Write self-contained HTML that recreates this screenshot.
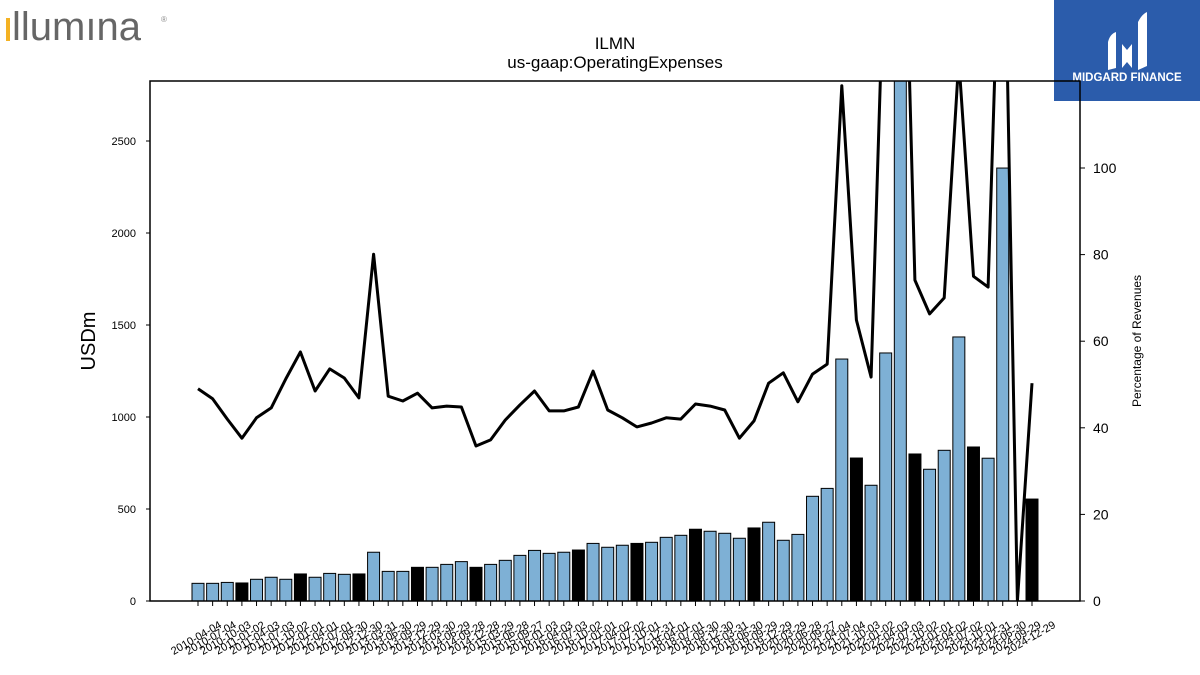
<!DOCTYPE html>
<html><head><meta charset="utf-8"><style>
html,body{margin:0;padding:0;background:#fff;width:1200px;height:675px;overflow:hidden}
svg{display:block;font-family:"Liberation Sans","DejaVu Sans",sans-serif}
</style></head><body>
<svg id="chart" width="1200" height="675" viewBox="0 0 1200 675">
<g>
<rect x="6" y="18" width="4" height="23" fill="#f4b223"/>
<text x="12" y="40" font-size="40" fill="#666" font-family="Liberation Sans, sans-serif">llumına</text>
<text x="161" y="22" font-size="8" fill="#888">®</text>
</g>
<g>
<rect x="1054" y="0" width="146" height="101" fill="#2b5cab"/>
<path d="M1108 70 L1108 42 Q1110 34 1116 32 L1116 68 Z M1122 68 L1122 44 L1127 50 L1132 44 L1132 68 L1127 62 Z M1138 70 L1138 22 Q1142 14 1147 12 L1147 66 Z" fill="#fff"/>
<text x="1127" y="81" font-size="11.5" font-weight="bold" fill="#fff" text-anchor="middle">MIDGARD FINANCE</text>
</g>
<text x="615" y="49" font-size="17" text-anchor="middle">ILMN</text>
<text x="615" y="68" font-size="17" text-anchor="middle">us-gaap:OperatingExpenses</text>
<text transform="translate(95,341) rotate(-90)" font-size="20" text-anchor="middle">USDm</text>
<text transform="translate(1141,341) rotate(-90)" font-size="12" text-anchor="middle">Percentage of Revenues</text>
<defs><clipPath id="pc"><rect x="150" y="81" width="930" height="520"/></clipPath></defs>
<g id="bars" clip-path="url(#pc)"></g>
<g id="line" clip-path="url(#pc)"></g>
<g id="axes"></g>
</svg>
<script>
const dates=["2010-04-04","2010-07-04","2010-10-03","2011-01-02","2011-04-03","2011-07-03","2011-10-02","2012-01-01","2012-04-01","2012-07-01","2012-09-30","2012-12-30","2013-03-31","2013-06-30","2013-09-29","2013-12-29","2014-03-30","2014-06-29","2014-09-28","2014-12-28","2015-03-29","2015-06-28","2015-09-27","2016-01-03","2016-04-03","2016-07-03","2016-10-02","2017-01-01","2017-04-02","2017-07-02","2017-10-01","2017-12-31","2018-04-01","2018-07-01","2018-09-30","2018-12-30","2019-03-31","2019-06-30","2019-09-29","2019-12-29","2020-03-29","2020-06-28","2020-09-27","2021-04-04","2021-07-04","2021-10-03","2022-01-02","2022-04-03","2022-07-03","2022-10-02","2023-01-01","2023-04-02","2023-07-02","2023-10-01","2023-12-31","2024-06-30","2024-09-29","2024-12-29"];
const expenses=[96,96,101,98,118,129,118,147,129,150,145,147,265,161,161,183,183,199,214,183,199,221,248,275,259,265,277,313,292,303,313,319,346,357,390,379,368,341,397,428,330,362,569,612,1315,777,629,1348,3000,799,716,819,1435,837,776,2353,0,554];
const annualFlags=[0,0,0,1,0,0,0,1,0,0,0,1,0,0,0,1,0,0,0,1,0,0,0,0,0,0,1,0,0,0,1,0,0,0,1,0,0,0,1,0,0,0,0,0,0,1,0,0,0,1,0,0,0,1,0,0,0,1];
const pctRevenue=[49,46.7,42,37.6,42.3,44.6,51.3,57.5,48.5,53.6,51.5,46.9,80.1,47.3,46.2,48,44.6,45,44.8,35.8,37.2,41.8,45.3,48.5,43.9,43.9,44.8,53.1,44.1,42.3,40.2,41.1,42.3,42,45.5,45,44.1,37.6,41.6,50.3,52.7,46,52.4,54.7,119,64.9,51.7,160,200,74.1,66.3,70,125,75,72.5,180,0,50.3];
const leftTicks=[0,500,1000,1500,2000,2500];
const rightTicks=[0,20,40,60,80,100];

const NS="http://www.w3.org/2000/svg";
const X0=198,DX=(1032-198)/(dates.length-1),BASE=601;
const xPos=i=>X0+i*DX;
const yL=v=>BASE-v*0.184;
const yR=v=>BASE-v*4.33;
function mk(tag,attrs,parent){const e=document.createElementNS(NS,tag);for(const k in attrs)e.setAttribute(k,attrs[k]);parent.appendChild(e);return e;}
const bars=document.getElementById('bars'),line=document.getElementById('line'),axes=document.getElementById('axes');
expenses.forEach((v,i)=>{
  if(v<=0)return;
  const r=mk('rect',{x:xPos(i)-6,y:yL(v),width:12,height:BASE-yL(v),fill:annualFlags[i]?'#000':'#7eb0d5',stroke:'#000','stroke-width':1},bars);
  
  
});
const pts=pctRevenue.map((v,i)=>xPos(i).toFixed(1)+','+yR(v).toFixed(1)).join(' ');
const pl=mk('polyline',{points:pts,fill:'none',stroke:'#000','stroke-width':3,'stroke-linejoin':'round'},line);


const fr=mk('rect',{x:150,y:81,width:930,height:520,fill:'none',stroke:'#000','stroke-width':1.5},axes);


leftTicks.forEach(t=>{
  const y=yL(t);
  const l=mk('line',{x1:146,x2:150,y1:y,y2:y,stroke:'#000'},axes);
  
  
  const tx=mk('text',{x:136,y:y+4,'font-size':11,'text-anchor':'end'},axes);
  tx.textContent=t;
  
  
});
rightTicks.forEach(t=>{
  const y=yR(t);
  const l=mk('line',{x1:1080,x2:1085,y1:y,y2:y,stroke:'#000'},axes);
  
  
  const tx=mk('text',{x:1093,y:y+5,'font-size':14},axes);
  tx.textContent=t;
  
  
});
dates.forEach((d,i)=>{
  const x=xPos(i);
  const l=mk('line',{x1:x,x2:x,y1:601,y2:606,stroke:'#000'},axes);
  
  
  const tx=mk('text',{'font-size':11,'text-anchor':'middle',transform:`translate(${x.toFixed(1)},641) rotate(-30)`},axes);
  tx.textContent=d;
  
  
});
</script>
</body></html>
